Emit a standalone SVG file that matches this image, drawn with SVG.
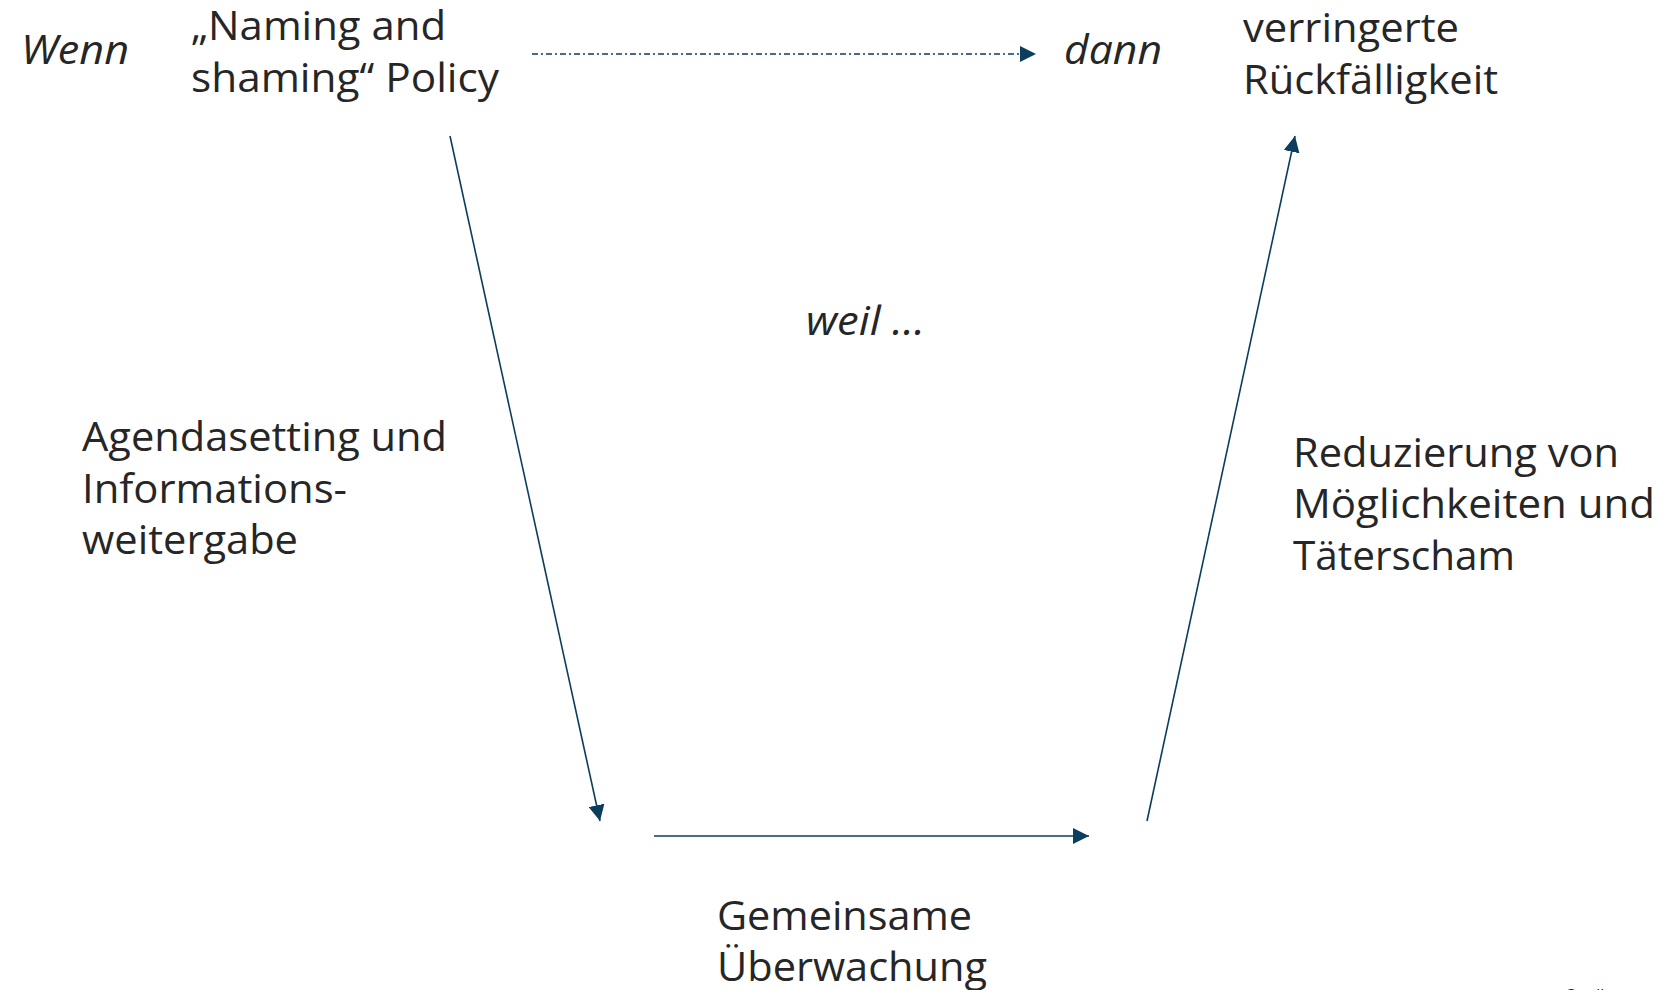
<svg xmlns="http://www.w3.org/2000/svg" width="1663" height="990" viewBox="0 0 1663 990">
  <style>
    .t { font-family: "Open Sans", "Noto Sans", "Liberation Sans", sans-serif; font-size: 40px; fill: #262626; }
    .i { font-style: italic; }
    .src { font-family: "Open Sans", "Liberation Sans", sans-serif; font-size: 16px; fill: #262626; }
    .link { stroke: #0b3d5c; stroke-width: 1.6; fill: none; }
    .dashdot { stroke-dasharray: 6 3 2 3; }
  </style>
  <defs>
    <marker id="tip" viewBox="0 0 10 10" refX="10" refY="5" markerWidth="9" markerHeight="9" markerUnits="userSpaceOnUse" orient="auto">
      <path d="M0,0 L10,5 L0,10 Z" fill="#0b3d5c"/>
    </marker>
    <marker id="tipL" viewBox="0 0 10 10" refX="10" refY="5" markerWidth="16" markerHeight="16" markerUnits="userSpaceOnUse" orient="auto">
      <path d="M0,0 L10,5 L0,10 Z" fill="#0b3d5c"/>
    </marker>
  </defs>

  <rect width="1663" height="990" fill="#ffffff"/>

  <!-- connectors -->
  <g id="connectors">
    <line class="link dashdot" x1="532" y1="54" x2="1036" y2="54" marker-end="url(#tipL)"/>
    <line class="link" x1="450" y1="136" x2="600" y2="821" marker-end="url(#tipL)"/>
    <line class="link" x1="654" y1="836" x2="1089" y2="836" marker-end="url(#tipL)"/>
    <line class="link" x1="1147" y1="821" x2="1295" y2="136" marker-end="url(#tipL)"/>
  </g>

  <g id="wenn">
    <text class="t i" x="21" y="64" textLength="108" lengthAdjust="spacingAndGlyphs">Wenn</text>
  </g>

  <g id="policy">
    <text class="t" x="191" y="40" textLength="255" lengthAdjust="spacingAndGlyphs">„Naming and</text>
    <text class="t" x="191" y="92" textLength="308" lengthAdjust="spacingAndGlyphs">shaming“ Policy</text>
  </g>

  <g id="dann">
    <text class="t i" x="1064" y="64" textLength="98" lengthAdjust="spacingAndGlyphs">dann</text>
  </g>

  <g id="rueckfall">
    <text class="t" x="1243" y="42" textLength="216" lengthAdjust="spacingAndGlyphs">verringerte</text>
    <text class="t" x="1243" y="94" textLength="255" lengthAdjust="spacingAndGlyphs">Rückfälligkeit</text>
  </g>

  <g id="weil">
    <text class="t i" x="806" y="335" textLength="119" lengthAdjust="spacingAndGlyphs">weil …</text>
  </g>

  <g id="agenda">
    <text class="t" x="82" y="451" textLength="365" lengthAdjust="spacingAndGlyphs">Agendasetting und</text>
    <text class="t" x="82" y="503" textLength="265" lengthAdjust="spacingAndGlyphs">Informations-</text>
    <text class="t" x="82" y="554" textLength="216" lengthAdjust="spacingAndGlyphs">weitergabe</text>
  </g>

  <g id="reduzierung">
    <text class="t" x="1293" y="467" textLength="326" lengthAdjust="spacingAndGlyphs">Reduzierung von</text>
    <text class="t" x="1293" y="518" textLength="362" lengthAdjust="spacingAndGlyphs">Möglichkeiten und</text>
    <text class="t" x="1293" y="570" textLength="222" lengthAdjust="spacingAndGlyphs">Täterscham</text>
  </g>

  <g id="ueberwachung">
    <text class="t" x="717" y="930" textLength="255" lengthAdjust="spacingAndGlyphs">Gemeinsame</text>
    <text class="t" x="717" y="981" textLength="270" lengthAdjust="spacingAndGlyphs">Überwachung</text>
  </g>

  <g id="quelle">
    <text class="src" x="1565" y="1001">Quelle:</text>
  </g>
</svg>
